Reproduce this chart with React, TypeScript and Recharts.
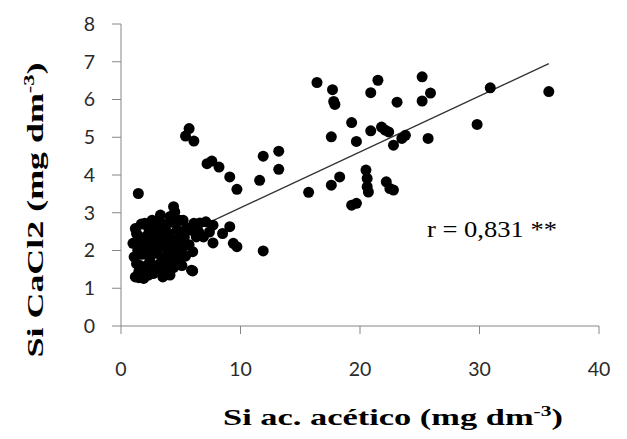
import { ReferenceLine, Scatter, ScatterChart, XAxis, YAxis } from "recharts";

type Pt = { x: number; y: number };

// dense cluster at low acetic acid values
const clusterPoints: Pt[] = [
  { x: 1.2, y: 2.58 }, { x: 1.3, y: 2.45 }, { x: 1.0, y: 2.19 }, { x: 1.1, y: 1.83 },
  { x: 1.2, y: 1.3 }, { x: 1.5, y: 1.45 }, { x: 1.9, y: 1.26 }, { x: 1.6, y: 1.6 },
  { x: 1.4, y: 2.0 }, { x: 1.8, y: 2.25 }, { x: 2.0, y: 2.72 }, { x: 2.3, y: 2.6 },
  { x: 2.2, y: 2.4 }, { x: 2.5, y: 2.1 }, { x: 2.1, y: 1.9 }, { x: 2.4, y: 1.7 },
  { x: 2.0, y: 1.5 }, { x: 2.3, y: 1.35 }, { x: 2.7, y: 1.39 }, { x: 2.7, y: 2.63 },
  { x: 2.9, y: 2.3 }, { x: 3.0, y: 1.95 }, { x: 2.8, y: 1.6 }, { x: 3.3, y: 2.94 },
  { x: 3.5, y: 2.7 }, { x: 3.2, y: 2.5 }, { x: 3.6, y: 2.2 }, { x: 3.4, y: 1.8 },
  { x: 3.1, y: 1.5 }, { x: 3.8, y: 1.6 }, { x: 3.9, y: 2.0 }, { x: 4.0, y: 2.45 },
  { x: 4.2, y: 2.75 }, { x: 4.4, y: 3.16 }, { x: 4.5, y: 3.02 }, { x: 4.3, y: 2.3 },
  { x: 4.6, y: 1.9 }, { x: 4.1, y: 1.35 }, { x: 4.8, y: 1.7 }, { x: 4.9, y: 2.8 },
  { x: 5.0, y: 2.4 }, { x: 5.2, y: 2.1 }, { x: 5.4, y: 1.85 }, { x: 5.5, y: 2.6 },
  { x: 5.9, y: 2.54 }, { x: 5.9, y: 1.48 }, { x: 6.3, y: 2.36 }, { x: 5.7, y: 2.15 },
  { x: 6.0, y: 1.97 }, { x: 6.0, y: 1.46 }, { x: 5.2, y: 2.8 }, { x: 1.7, y: 2.7 },
  { x: 2.6, y: 2.8 }, { x: 3.7, y: 2.6 }, { x: 4.7, y: 2.55 }, { x: 1.5, y: 2.1 },
  { x: 2.6, y: 1.5 }, { x: 3.7, y: 1.4 }, { x: 4.4, y: 1.55 }, { x: 5.1, y: 1.6 },
  { x: 1.45, y: 3.51 },
  { x: 1.3, y: 1.65 }, { x: 1.7, y: 1.9 }, { x: 1.9, y: 2.05 }, { x: 2.2, y: 2.2 },
  { x: 1.6, y: 2.35 }, { x: 2.5, y: 2.45 }, { x: 2.8, y: 2.0 }, { x: 3.2, y: 2.1 },
  { x: 3.0, y: 2.7 }, { x: 3.5, y: 2.4 }, { x: 3.3, y: 1.65 }, { x: 3.7, y: 1.85 },
  { x: 4.0, y: 1.75 }, { x: 4.2, y: 2.1 }, { x: 4.6, y: 2.25 }, { x: 4.9, y: 2.0 },
  { x: 5.3, y: 2.35 }, { x: 1.8, y: 1.45 }, { x: 2.2, y: 1.6 }, { x: 2.9, y: 1.45 },
  { x: 3.5, y: 1.3 }, { x: 1.5, y: 1.28 }, { x: 2.5, y: 1.85 }, { x: 4.1, y: 2.9 },
];

const midPoints: Pt[] = [
  { x: 6.1, y: 2.72 }, { x: 6.6, y: 2.73 }, { x: 7.1, y: 2.76 }, { x: 7.7, y: 2.67 },
  { x: 5.8, y: 2.54 }, { x: 6.5, y: 2.49 }, { x: 6.9, y: 2.36 }, { x: 7.4, y: 2.49 },
  { x: 9.1, y: 2.63 }, { x: 8.5, y: 2.45 }, { x: 7.7, y: 2.2 }, { x: 9.4, y: 2.19 },
  { x: 9.7, y: 2.1 }, { x: 11.9, y: 1.99 },
  { x: 5.7, y: 5.23 }, { x: 5.4, y: 5.03 }, { x: 6.1, y: 4.9 }, { x: 7.2, y: 4.3 },
  { x: 7.6, y: 4.37 }, { x: 8.2, y: 4.21 }, { x: 9.1, y: 3.95 }, { x: 9.7, y: 3.62 },
  { x: 11.9, y: 4.5 }, { x: 13.2, y: 4.63 }, { x: 13.2, y: 4.15 }, { x: 11.6, y: 3.86 },
];

const highPoints: Pt[] = [
  { x: 15.7, y: 3.54 }, { x: 16.4, y: 6.45 }, { x: 17.7, y: 6.26 }, { x: 17.8, y: 5.95 },
  { x: 17.9, y: 5.87 }, { x: 17.6, y: 5.01 }, { x: 19.3, y: 5.39 }, { x: 19.7, y: 4.89 },
  { x: 20.9, y: 5.17 }, { x: 21.5, y: 6.51 }, { x: 20.9, y: 6.18 }, { x: 21.8, y: 5.27 },
  { x: 22.1, y: 5.19 }, { x: 22.4, y: 5.14 }, { x: 23.1, y: 5.93 }, { x: 22.8, y: 4.79 },
  { x: 23.5, y: 4.97 }, { x: 23.8, y: 5.05 }, { x: 17.6, y: 3.73 }, { x: 18.3, y: 3.95 },
  { x: 20.5, y: 4.13 }, { x: 20.6, y: 3.91 }, { x: 20.6, y: 3.69 }, { x: 20.7, y: 3.55 },
  { x: 19.3, y: 3.2 }, { x: 19.7, y: 3.25 }, { x: 22.2, y: 3.82 }, { x: 22.5, y: 3.64 },
  { x: 22.8, y: 3.6 }, { x: 25.2, y: 6.6 }, { x: 25.9, y: 6.17 }, { x: 25.2, y: 5.96 },
  { x: 30.9, y: 6.31 }, { x: 35.8, y: 6.21 }, { x: 29.8, y: 5.34 }, { x: 25.7, y: 4.97 },
];

// fitted line ends
const trendLine: Pt[] = [{ x: 1.0, y: 1.8 }, { x: 35.8, y: 6.95 }];

const xTicks = [0, 10, 20, 30, 40];
const yTicks = [0, 1, 2, 3, 4, 5, 6, 7, 8];

const allPoints = [...clusterPoints, ...midPoints, ...highPoints];

const axisColor = "#868686";
const tickStyle = { fontFamily: "Lato, 'Open Sans', sans-serif", fontSize: 19.5, fill: "#2a2a2a" };
const titleFont = "'Liberation Serif', 'Times New Roman', serif";

const Dot = (p: any) => <circle cx={ p.cx } cy={ p.cy } r={ 5.5 } fill="#000"/>;

const XTitle = ({ viewBox }: any) => (
  <text x={ viewBox.x + viewBox.width / 2 + 33 } y={ 417 } textAnchor="middle"
        fontFamily={ titleFont } fontWeight="bold" fontSize={ 24 } fill="#000"
        textLength={ 340 } lengthAdjust="spacingAndGlyphs">
    Si ac. acético (mg dm<tspan dy={ -9 } fontSize={ 15 }>-3</tspan><tspan dy={ 9 }>)</tspan>
  </text>
);

const YTitle = () => (
  <text x={ 0 } y={ 0 } transform="translate(35, 202) rotate(-90)" textAnchor="middle"
        fontFamily={ titleFont } fontWeight="bold" fontSize={ 24 } fill="#000"
        textLength={ 295 } lengthAdjust="spacingAndGlyphs">
    Si CaCl2 (mg dm<tspan dy={ -9 } fontSize={ 15 }>-3</tspan><tspan dy={ 9 }>)</tspan>
  </text>
);

const App = () => (
  <div style={ { width: 611, height: 423, position: "relative" } }>
    <ScatterChart width={ 611 } height={ 423 } margin={ { top: 16, right: 20, bottom: 0, left: 0 } }>
      <XAxis type="number" dataKey="x" domain={ [0, 40] } ticks={ xTicks } interval={ 0 }
             height={ 105 } tickSize={ 8 } tickMargin={ 28 } tick={ tickStyle }
             stroke={ axisColor } label={ <XTitle/> }/>
      <YAxis type="number" dataKey="y" domain={ [0, 8] } ticks={ yTicks } interval={ 0 }
             width={ 113 } tickSize={ 9 } tickMargin={ 17 } tick={ tickStyle }
             stroke={ axisColor } label={ <YTitle/> }/>
      <ReferenceLine segment={ trendLine } stroke="#333" strokeWidth={ 1.3 } ifOverflow="visible"/>
      <Scatter data={ allPoints } shape={ Dot } isAnimationActive={ false }/>
      <text x={ 484 } y={ 229 } textAnchor="middle" fontFamily={ titleFont } fontSize={ 23 } fill="#000"
            textLength={ 130 } lengthAdjust="spacingAndGlyphs">
        r = 0,831 **
      </text>
    </ScatterChart>
  </div>
);

export default App;
